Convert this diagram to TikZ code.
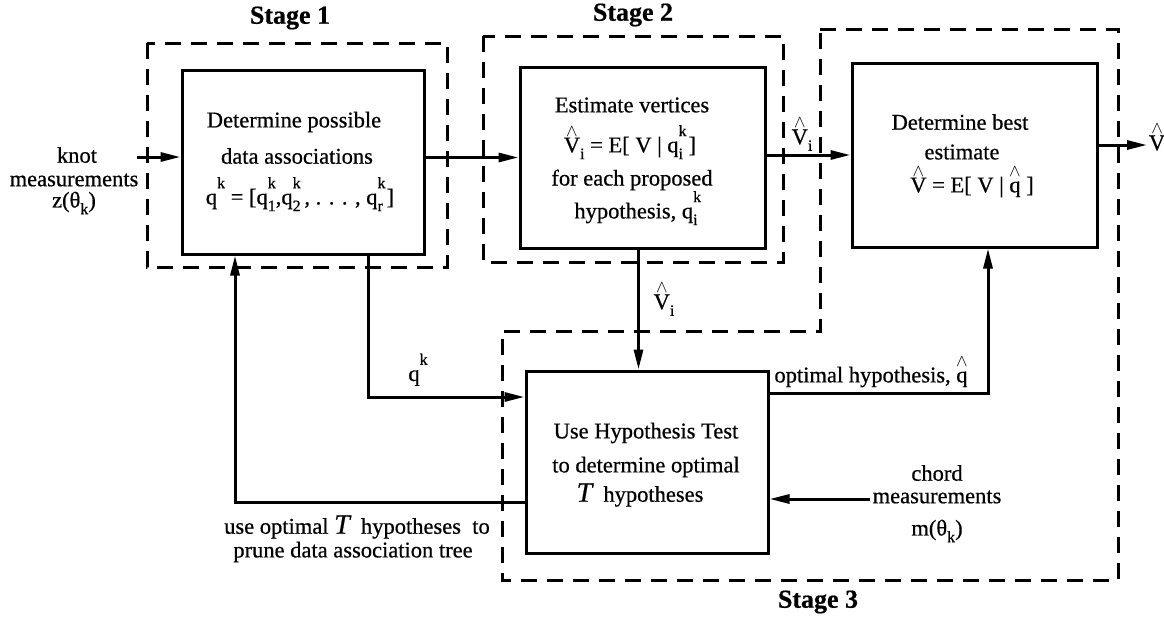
\documentclass[tikz,border=0pt]{standalone}
\usepackage{fontspec}
\setmainfont{Liberation Serif}[FakeBold=0.6]
\usetikzlibrary{arrows.meta,calc}

% small raised / lowered indices and a detached hat
\newcommand{\sps}[1]{\raisebox{0.72em}[0pt][0pt]{\fontsize{16}{16}\selectfont #1}}
\newcommand{\sbs}[1]{\raisebox{-0.3em}[0pt][0pt]{\fontsize{16}{16}\selectfont #1}}
\newcommand{\qk}[1]{q\rlap{\sps{k}}\sbs{#1}}
\newsavebox\hatbx
\newcommand{\hatof}[1]{\sbox\hatbx{#1}\makebox[\wd\hatbx][c]{\raisebox{0.72em}[0pt][0pt]{\fontsize{18}{18}\selectfont$\wedge$}}\llap{\usebox\hatbx}}

\begin{document}
\begin{tikzpicture}[x=1pt,y=-1pt,
  font=\fontsize{22.5}{26}\selectfont,
  blk/.style={draw, line width=3pt, inner sep=0pt},
  stagebox/.style={draw, line width=3pt, dash pattern=on 16pt off 10pt},
  flow/.style={line width=3pt, -{Triangle[length=20pt,width=9pt]}},
  lbl/.style={inner sep=0pt, align=center},
  stg/.style={inner sep=0pt, font=\fontsize{26}{30}\selectfont\bfseries}]

\useasboundingbox (0,0) rectangle (1164,621);

% processing blocks
\node[blk, minimum width=242pt, minimum height=184pt] (b1) at (303,162) {};
\node[blk, minimum width=245pt, minimum height=181pt] (b2) at (642.5,157.5) {};
\node[blk, minimum width=245pt, minimum height=184pt] (b3) at (974.5,155) {};
\node[blk, minimum width=242pt, minimum height=182pt] (b4) at (647,462) {};

% stage groupings
\draw[stagebox] (147,43) rectangle (447,267);
\draw[stagebox] (483,36) rectangle (783,262);
\draw[stagebox] (820,29) -- (1118,29) -- (1118,580) -- (502,580) -- (502,331) -- (820,331) -- cycle;

\node[stg] (st1) at (290,18) {Stage 1};
\node[stg] (st2) at (633,15) {Stage 2};
\node[stg] (st3) at (818,602) {Stage 3};

% block texts
\node[lbl] (t1a) at (294,122) {Determine possible};
\node[lbl] (t1b) at (297,156) {data associations};
\node[lbl] (t1c) at (300,199) {q\sps{k} = [\qk{1},\qk{2}\,, . . . , \qk{r}\,]};

\node[lbl] (t2a) at (632,105) {Estimate vertices};
\node[lbl] (t2b) at (630,147) {\hatof{V}\sbs{i} = E[ V | \qk{i} ]};
\node[lbl] (t2c) at (632,180) {for each proposed};
\node[lbl] (t2d) at (636,213) {hypothesis, \qk{i}};

\node[lbl] (t3a) at (960,122) {Determine best};
\node[lbl] (t3b) at (962,152) {estimate};
\node[lbl] (t3c) at (972,187) {\hatof{V} = E[ V | \hatof{q} ]};

\node[lbl] (t4a) at (646,433) {Use Hypothesis Test};
\node[lbl] (t4b) at (646,467) {to determine optimal};
\node[lbl] (t4c) at (640,495) {{\fontsize{28}{28}\selectfont\itshape T}\ \ hypotheses};

% inputs and outputs
\node[lbl] (kn1) at (77,155) {knot};
\node[lbl] (kn2) at (74,180) {measurements};
\node[lbl] (kn3) at (74,202) {z(θ\sbs{k})};

\node[lbl] (ch1) at (937,473) {chord};
\node[lbl] (ch2) at (937,497) {measurements};
\node[lbl] (ch3) at (937,530) {m(θ\sbs{k})};

\node[lbl] (pr1) at (357,527) {use optimal {\fontsize{28}{28}\selectfont\itshape T}\ \ hypotheses \ to};
\node[lbl] (pr2) at (353,552) {prune data association tree};

\node[lbl] (lv1) at (802,137) {\hatof{V}\sbs{i}};
\node[lbl] (lv2) at (664,302) {\hatof{V}\sbs{i}};
\node[lbl] (lqk) at (418,378) {q\sps{k}};
\node[lbl] (lop) at (871,377) {optimal hypothesis, \hatof{q}};
\node[lbl] (lvo) at (1157,143) {\hatof{V}};

% connectors
\coordinate (kin) at (137,157);
\draw[flow] (kin) -- (kin -| b1.west);
\draw[flow] (b1.east |- b2.west) -- (b2.west);
\draw[flow] (b2.east |- b3.west) -- (b3.west);
\coordinate (vout) at (1147,145);
\draw[flow] (b3.east |- vout) -- (vout);
\draw[flow] ([xshift=-4pt]b2.south) -- ([xshift=-4pt]b2.south |- b4.north);
\draw[flow] ([xshift=65pt]b1.south) |- ([yshift=65pt]b4.west);
\draw[flow] ([yshift=-40pt]b4.west) -| ([xshift=-68pt]b1.south);
\draw[flow] ([yshift=69pt]b4.east) -| ([xshift=13.5pt]b3.south);
\coordinate (cin) at (870,499);
\draw[flow] (cin) -- (cin -| b4.east);

\end{tikzpicture}
\end{document}
